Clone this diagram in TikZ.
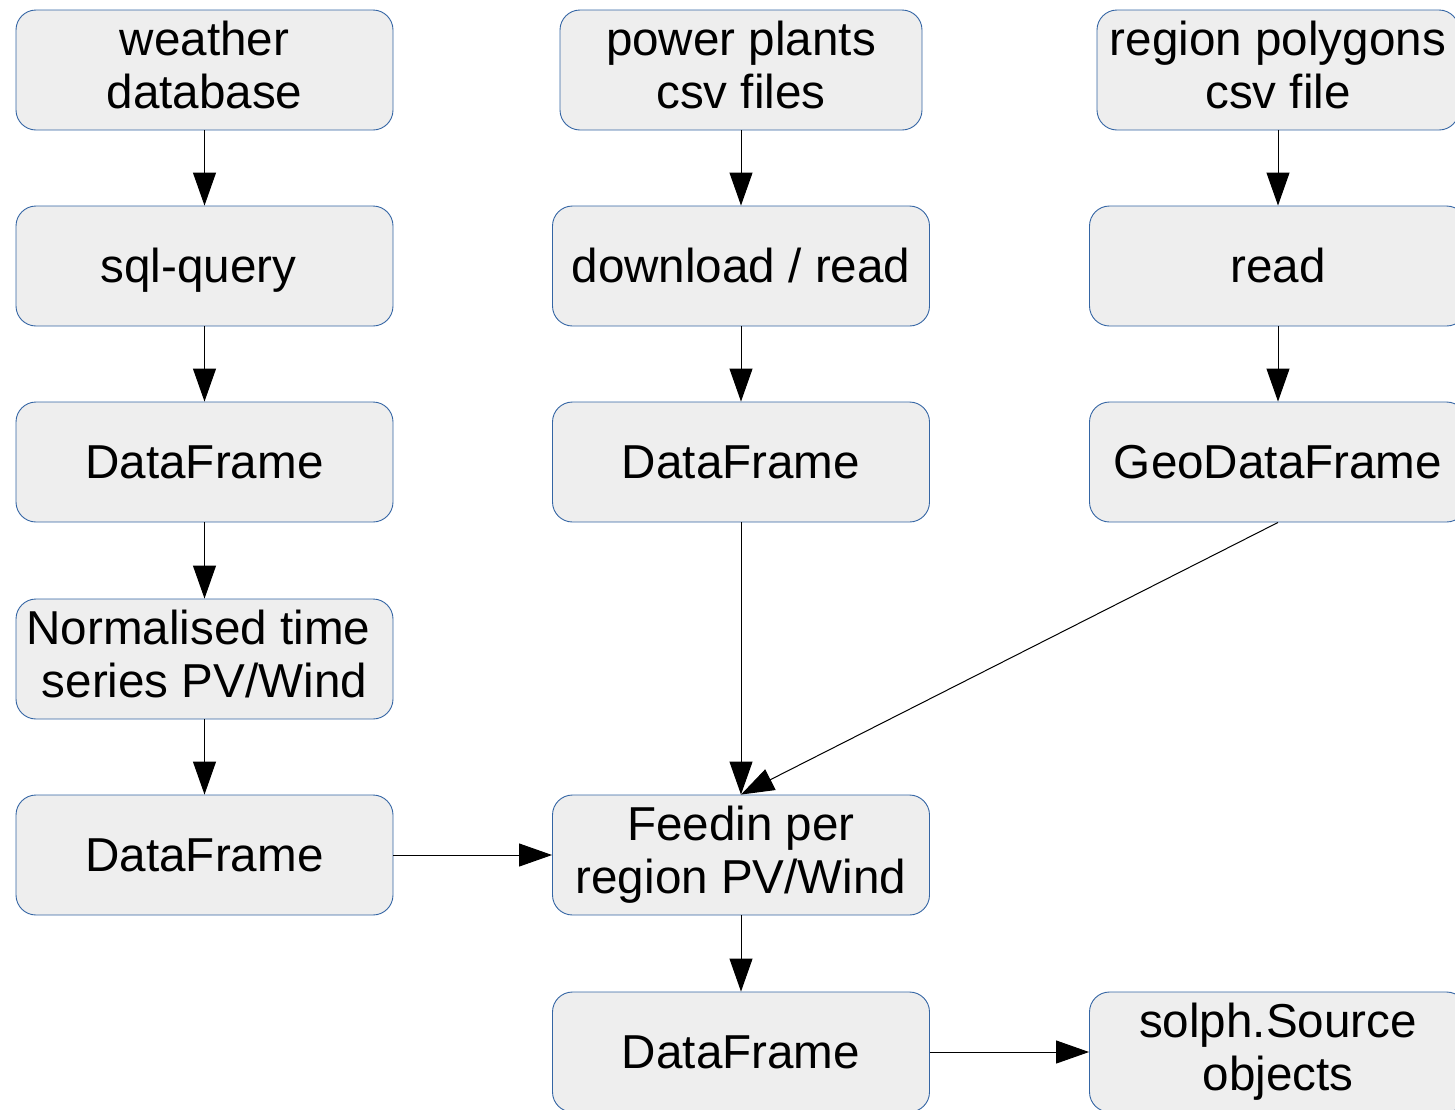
\documentclass[tikz,border=0pt]{standalone}
\usepackage{fontspec}
\setmainfont{Liberation Sans}
\usetikzlibrary{arrows.meta}
\definecolor{boxfill}{HTML}{EEEEEE}
\definecolor{boxline}{HTML}{3465A4}
% strut with the font's full ascent and descent, so lines sit as in a text frame
\newcommand\linestrut{\rule[-10.1pt]{0pt}{53.2pt}}
\begin{document}
\begin{tikzpicture}[x=1pt,y=-1pt,
  box/.style={draw=boxline, line width=0.9pt, fill=boxfill, rounded corners=20pt,
    minimum width=377pt, minimum height=120pt, inner sep=0pt, align=center,
    font=\fontsize{47.6}{53.2}\selectfont,
    execute at begin node=\linestrut, execute at end node=\linestrut},
  flow/.style={line width=1pt, -{Triangle[length=33pt,width=23pt]}}]
\useasboundingbox (0,0) rectangle (1455,1109);
\clip (0,0) rectangle (1455,1109);
% left column: weather data
\node[box] (wdb)  at (204.5,70)  {weather\\database};
\node[box] (sql)  at (204.5,266) {sql-query\hspace*{12pt}};
\node[box] (wdf)  at (204.5,462) {DataFrame};
\node[box] (norm) at (204.5,659) {Normalised time\hspace*{12pt}\\series PV/Wind};
\node[box] (ndf)  at (204.5,855) {DataFrame};
% middle column: power plants
\node[box, minimum width=362pt] (pp) at (741,70) {power plants\\csv files};
\node[box] (dl)   at (741,266)  {download / read};
\node[box] (pdf)  at (741,462)  {DataFrame};
\node[box] (feed) at (741,855)  {Feedin per\\region PV/Wind};
\node[box] (fdf)  at (741,1052) {DataFrame};
% right column: regions
\node[box, minimum width=362pt] (poly) at (1278,70) {region polygons\\csv file};
\node[box] (rd)   at (1278,266)  {read};
\node[box] (gdf)  at (1278,462)  {GeoDataFrame};
\node[box] (src)  at (1278,1052) {solph.Source\\objects};
% connectors
\draw[flow] (wdb) -- (sql);
\draw[flow] (sql) -- (wdf);
\draw[flow] (wdf) -- (norm);
\draw[flow] (norm) -- (ndf);
\draw[flow] (pp) -- (dl);
\draw[flow] (dl) -- (pdf);
\draw[flow] (pdf) -- (feed);
\draw[flow] (poly) -- (rd);
\draw[flow] (rd) -- (gdf);
\draw[flow] (gdf.south) -- (feed.north);
\draw[flow] (ndf) -- (feed);
\draw[flow] (feed) -- (fdf);
\draw[flow] (fdf) -- (src);
\end{tikzpicture}
\end{document}
